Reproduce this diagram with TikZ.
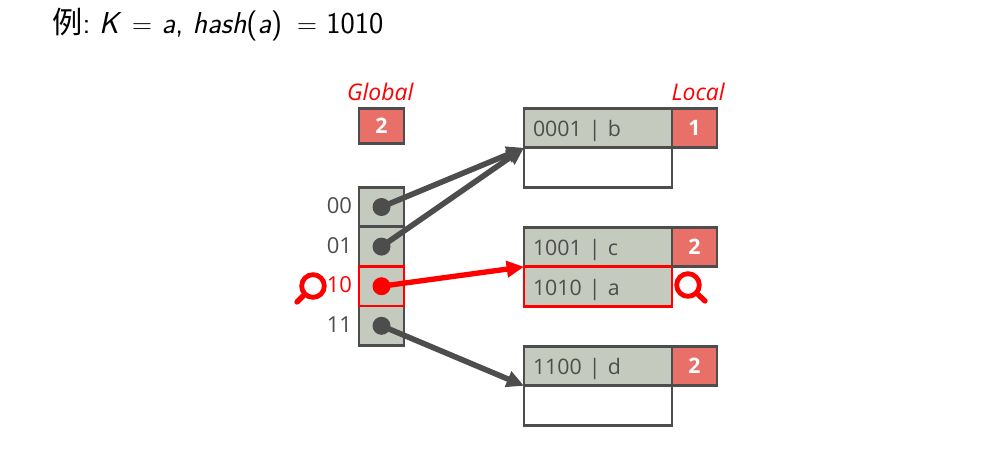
\documentclass[tikz,border=0pt]{standalone}
\usepackage{fontspec}
\setmainfont{Open Sans}
\setsansfont{Latin Modern Sans}
\newfontfamily\cjk{Noto Sans CJK SC}
\usepackage{tikz}
\usetikzlibrary{positioning,arrows.meta}
\definecolor{cellgray}{HTML}{C5CABF}
\definecolor{darkline}{HTML}{4D4D4D}
\definecolor{localred}{HTML}{E87068}
\newcommand{\pxunit}{0.75pt}
\newcommand{\keytext}[1]{\raisebox{-6.3pt}[0pt][0pt]{#1}}

\begin{document}
\begin{tikzpicture}[x=\pxunit, y=-\pxunit, node distance=0pt, >={Triangle[length=13pt,width=12pt]},
		box/.style={draw=darkline, line width=2.1pt, outer sep=0pt, inner sep=0pt, text=darkline, font=\fontsize{16}{19}\selectfont},
		cell/.style={box, fill=cellgray, minimum width=33.75pt, minimum height=29.7pt},
		slot/.style={box, minimum width=111pt, minimum height=29.7pt, align=left, text width=97.5pt},
		entry/.style={slot, fill=cellgray},
		depth/.style={box, fill=localred, text=white, font=\fontsize{16}{19}\selectfont\bfseries, minimum width=33.75pt, minimum height=29.7pt},
		hit/.style={draw=red, line width=2.2pt},
		dot/.style={circle, fill=darkline, inner sep=0pt, minimum size=13.5pt},
		idx/.style={left=5pt of #1, text=darkline, inner sep=0pt, font=\fontsize{16.5}{19}\selectfont},
		title/.style={text=red, inner sep=0pt, font=\fontsize{17.2}{20}\selectfont\itshape},
		link/.style={->, line width=4.2pt, draw=darkline},
		lens/.style={circle, draw=red, line width=3.6pt, inner sep=0pt, minimum size=17pt}]
	\useasboundingbox (0,0) rectangle (1000,451);

	\node[anchor=west, inner sep=0pt, font=\fontsize{22.7}{27}\sffamily] (heading) at (52,25)
		{{\cjk 例}:\kern-3pt{} {\itshape K}\kern3pt{} $=$ {\itshape a}, {\itshape hash}({\itshape a})\kern4pt{} $=$ 1010};

	% global depth
	\node[depth, minimum height=26.5pt] (globaldepth) at (381.5,126) {2};
	\node[title, above=5.5pt of globaldepth, xshift=-1pt] (globaltitle) {Global};

	% directory
	\node[cell] (c00) at (381.5,207) {};
	\node[cell, below=of c00] (c01) {};
	\node[cell, below=of c01] (c10) {};
	\node[cell, below=of c10] (c11) {};
	\node[cell, hit, at=(c10)] (c10) {};
	\node[idx=c00, yshift=1pt] (l00) {00};
	\node[idx=c01, yshift=1pt] (l01) {01};
	\node[idx=c10, text=red, yshift=1pt] (l10) {10};
	\node[idx=c11, yshift=1pt] (l11) {11};
	\node[dot] (d00) at (c00) {};
	\node[dot] (d01) at (c01) {};
	\node[dot, fill=red] (d10) at (c10) {};
	\node[dot] (d11) at (c11) {};

	% buckets
	\node[entry] (b0) at (598,128) {\keytext{0001\,\,|\,\,b}};
	\node[slot, below=of b0] (b0e) {};
	\node[depth, right=of b0] (n0) {1};
	\node[title, above right=5.5pt and 0pt of n0.north east, anchor=south east, xshift=6pt] (localtitle) {Local};

	\node[entry] (b1) at (598,247) {\keytext{1001\,\,|\,\,c}};
	\node[entry, below=of b1, hit] (b1a) {\keytext{1010\,\,|\,\,a}};
	\node[depth, right=of b1] (n1) {2};

	\node[entry] (b2) at (598,366) {\keytext{1100\,\,|\,\,d}};
	\node[slot, below=of b2] (b2e) {};
	\node[depth, right=of b2] (n2) {2};

	% pointers
	\draw[link] (d00.center) -- (b0.south west);
	\draw[link] (d01.center) -- (b0.south west);
	\draw[link] (d11.center) -- (b2.south west);
	\draw[link, draw=red, line width=4pt] (d10.center) -- (b1a.north west);

	% lenses
	\node[lens] (lensa) at (313,286) {};
	\coordinate (handlea) at (297,302);
	\draw[red, line width=4pt, line cap=round] (lensa) -- (handlea);
	\node[lens] (lensb) at (688,285) {};
	\coordinate (handleb) at (705,301);
	\draw[red, line width=4pt, line cap=round] (lensb) -- (handleb);
\end{tikzpicture}
\end{document}
